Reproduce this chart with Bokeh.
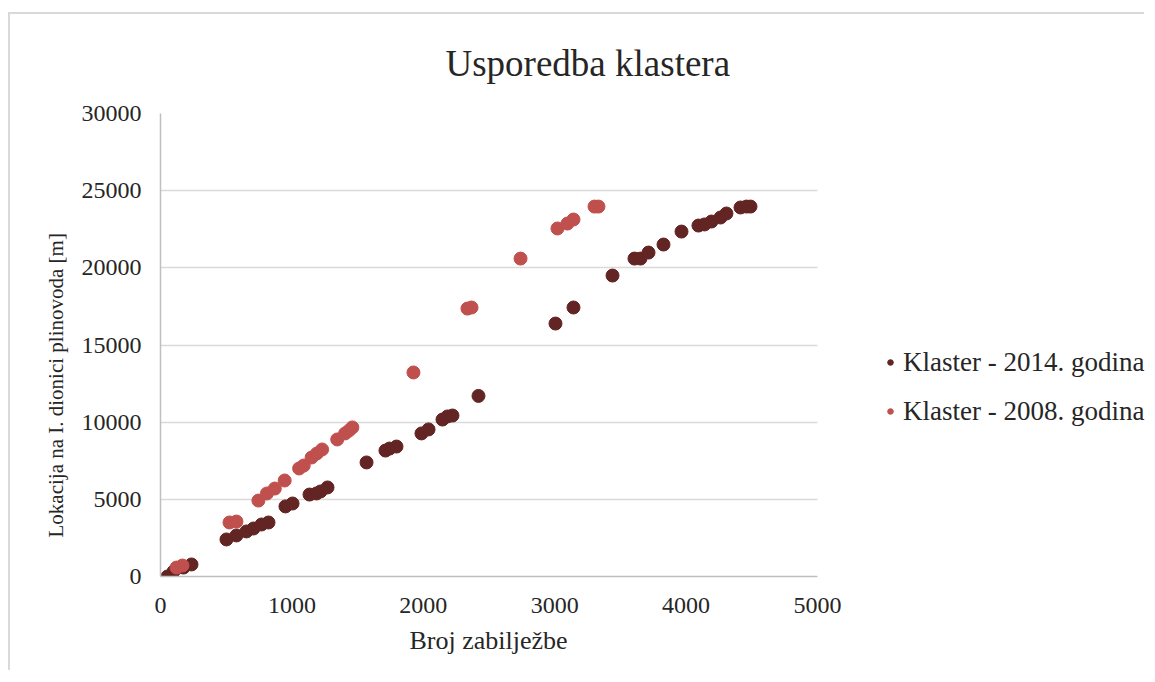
from bokeh.plotting import figure
from bokeh.models import (Range1d, Legend, LegendItem, SingleIntervalTicker,
                          BasicTickFormatter, Title, BoxAnnotation)
from bokeh.embed import file_html
from bokeh.resources import INLINE

# ---- data ----
title_text = "Usporedba klastera"
x_label = "Broj zabilježbe"
y_label = "Lokacija na I. dionici plinovoda [m]"
series_2014_name = "Klaster - 2014. godina"
series_2008_name = "Klaster - 2008. godina"

x_2014 = [53, 99, 175, 236, 502, 578, 654, 708, 769, 822, 951, 1005, 1134, 1187, 1218,
          1271, 1568, 1712, 1743, 1796, 1986, 2040, 2146, 2184, 2222, 2420, 3006, 3143,
          3440, 3607, 3653, 3714, 3828, 3965, 4094, 4140, 4193, 4262, 4307, 4414, 4460, 4490]
y_2014 = [0, 320, 580, 780, 2400, 2660, 2920, 3110, 3370, 3500, 4540, 4730, 5310, 5380, 5510,
          5770, 7390, 8160, 8290, 8420, 9270, 9530, 10170, 10370, 10430, 11700, 16390, 17430,
          19500, 20600, 20600, 20990, 21510, 22350, 22740, 22810, 23000, 23260, 23520, 23910, 23970, 23970]

x_2008 = [122, 167, 525, 578, 745, 810, 870, 945, 1055, 1090, 1150, 1190, 1230, 1345,
          1405, 1435, 1460, 1925, 2336, 2367, 2740, 3021, 3097, 3143, 3303, 3333]
y_2008 = [580, 710, 3500, 3560, 4920, 5380, 5700, 6220, 7000, 7190, 7710, 7970, 8230, 8880,
          9270, 9460, 9660, 13220, 17360, 17430, 20600, 22550, 22870, 23130, 23970, 23970]

x_min, x_max = 0, 5000
y_min, y_max = 0, 30000
x_ticks_interval = 1000
y_ticks_interval = 5000

FONT = "Liberation Serif"
DARK = "#632523"
RED = "#C0504D"
TXT = "#262626"

W, H = 1136, 658
B_LEFT, B_TOP, B_BOTTOM = 150, 99, 96
PLOT_W = 657  # pixel width of the 0..5000 axis
# frame extends to the right edge (legend lives in the blank area right of the axis)
x_view_end = x_max * (W - B_LEFT) / PLOT_W

p = figure(width=W, height=H, output_backend="svg", toolbar_location=None,
           x_range=Range1d(x_min, x_view_end), y_range=Range1d(y_min, y_max),
           min_border_left=B_LEFT, min_border_right=0, min_border_top=B_TOP,
           min_border_bottom=B_BOTTOM,
           background_fill_color="white", border_fill_color="white",
           styles={"border-top": "2px solid #d9d9d9", "border-left": "2px solid #d9d9d9",
                   "margin-top": "12px", "margin-left": "8px"})
p.outline_line_color = None

# title
p.title.text = title_text
p.title.align = "left"
p.title.offset = 285
p.title.standoff = 55
p.title.vertical_align = "top"
p.title.text_font = FONT
p.title.text_font_size = "37px"
p.title.text_font_style = "normal"
p.title.text_color = TXT

p.xgrid.grid_line_color = None
p.ygrid.grid_line_color = "#d9d9d9"
p.ygrid.grid_line_width = 1.5

p.xaxis.ticker = SingleIntervalTicker(interval=x_ticks_interval)
p.yaxis.ticker = SingleIntervalTicker(interval=y_ticks_interval)
p.xaxis.bounds = (x_min, x_max)
for ax in (p.xaxis, p.yaxis):
    ax.formatter = BasicTickFormatter(use_scientific=False)
    ax.axis_line_color = "#bfbfbf"
    ax.axis_line_width = 1.5
    ax.major_tick_line_color = None
    ax.minor_tick_line_color = None
    ax.major_tick_out = 0
    ax.major_tick_in = 0
    ax.minor_tick_out = 0
    ax.major_label_text_font = FONT
    ax.major_label_text_font_size = "24px"
    ax.major_label_text_color = TXT
p.yaxis.major_label_standoff = 19
p.xaxis.major_label_standoff = 21

# x axis title, centred under the 0..5000 axis
xtitle = Title(text=x_label, align="left", offset=249, standoff=20, vertical_align="top",
               text_font=FONT, text_font_size="26px", text_font_style="normal",
               text_color=TXT)
p.add_layout(xtitle, "below")

# y axis title as a side title (placed along the axis like the reference)
ytitle = Title(text=y_label, align="left", offset=39, standoff=22, text_font=FONT,
               text_font_size="21px", text_font_style="normal", text_color=TXT)
p.add_layout(ytitle, "left")

# blank out the grid to the right of the plotted x range
p.add_layout(BoxAnnotation(left=x_max, fill_color="white", fill_alpha=1.0,
                           line_color=None))

r2014 = p.scatter(x_2014, y_2014, size=13, marker="circle", fill_color=DARK, line_color=DARK)
r2008 = p.scatter(x_2008, y_2008, size=13, marker="circle", fill_color=RED, line_color=RED)

legend = Legend(items=[LegendItem(label=series_2014_name, renderers=[r2014]),
                       LegendItem(label=series_2008_name, renderers=[r2008])],
                location=(723, 145), padding=0, margin=0, border_line_color=None,
                background_fill_alpha=0, glyph_width=14, glyph_height=40, label_height=40,
                spacing=9, label_standoff=6, label_text_font=FONT,
                label_text_font_size="27px", label_text_baseline="middle",
                label_text_color=TXT)
p.add_layout(legend)

open("out.html", "w").write(file_html(p, INLINE))
